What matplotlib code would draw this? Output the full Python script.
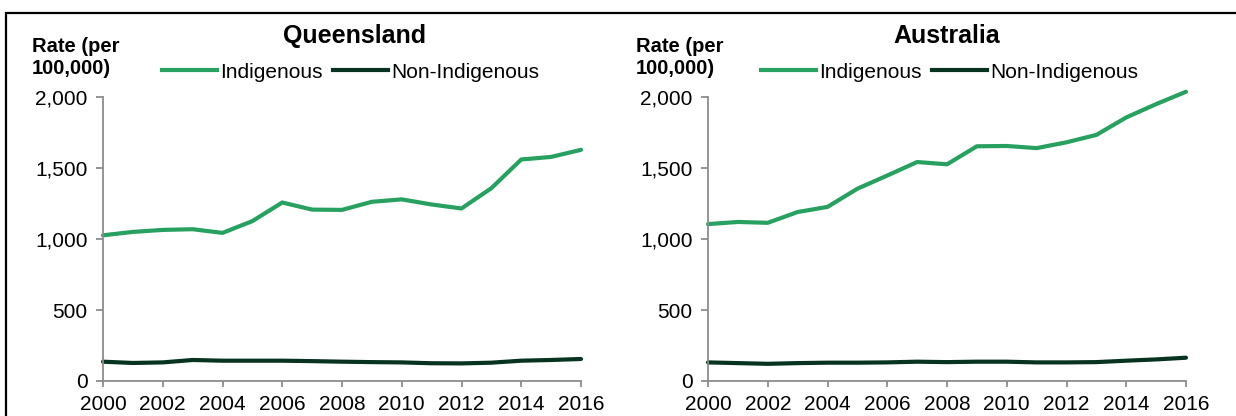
import matplotlib
matplotlib.use("Agg")
import matplotlib.pyplot as plt
from matplotlib.lines import Line2D
from matplotlib.patches import Rectangle

plt.rcParams['font.family'] = ['Liberation Sans', 'DejaVu Sans']

# Rates per 100,000, 2000-2016
years = list(range(2000, 2017))
qld_indigenous = [1026, 1050, 1064, 1069, 1043, 1126, 1257, 1207, 1205, 1262,
                  1279, 1243, 1215, 1358, 1560, 1578, 1628]
qld_non_indigenous = [136, 127, 131, 148, 143, 143, 143, 140, 136, 133,
                      131, 125, 124, 129, 143, 148, 155]
aus_indigenous = [1105, 1120, 1114, 1190, 1226, 1354, 1447, 1542, 1526, 1653,
                  1655, 1640, 1681, 1733, 1856, 1950, 2037]
aus_non_indigenous = [131, 126, 121, 126, 129, 129, 131, 136, 133, 136,
                      136, 131, 131, 133, 143, 152, 164]

panel_titles = ["Queensland", "Australia"]
series_labels = ["Indigenous", "Non-Indigenous"]
x_ticks = list(range(2000, 2017, 2))
y_ticks = [0, 500, 1000, 1500, 2000]

GREEN = "#27a060"
DARK = "#073320"
AXIS_GREY = "#8c8c8c"

fig = plt.figure(figsize=(12.36, 4.16), dpi=100)

# frame around the figure (top and left edges visible)
fig.patches.append(Rectangle((6 / 1236, -0.2), 1.2, 1.2 - 13 / 416,
                             transform=fig.transFigure, fill=False,
                             edgecolor="black", linewidth=1.6))

panels = [
    (103 / 1236, qld_indigenous, qld_non_indigenous, 355 / 1236, 162 / 1236, 32 / 1236),
    (708 / 1236, aus_indigenous, aus_non_indigenous, 947 / 1236, 761 / 1236, 636 / 1236),
]

for (left, indig, non_indig, title_x, leg_x, lab_x), title in zip(panels, panel_titles):
    ax = fig.add_axes([left, 1 - 381 / 416, 478 / 1236, 284 / 416])
    ax.plot(years, indig, color=GREEN, lw=3.0, solid_capstyle="round",
            solid_joinstyle="round", clip_on=False, label=series_labels[0])
    ax.plot(years, non_indig, color=DARK, lw=3.0, solid_capstyle="round",
            solid_joinstyle="round", clip_on=False, label=series_labels[1])

    ax.set_xlim(2000, 2016)
    ax.set_ylim(0, 2000)
    ax.set_xticks(x_ticks)
    ax.set_yticks(y_ticks)
    ax.set_yticklabels([f"{v:,}" for v in y_ticks])
    ax.tick_params(axis="both", direction="out", width=1.3,
                   color=AXIS_GREY, labelsize=15)
    ax.tick_params(axis="x", length=4, pad=6)
    ax.tick_params(axis="y", length=5, pad=6)
    for side in ("top", "right"):
        ax.spines[side].set_visible(False)
    for side in ("left", "bottom"):
        ax.spines[side].set_color(AXIS_GREY)
        ax.spines[side].set_linewidth(1.3)

    fig.text(title_x, 1 - 36 / 416, title, ha="center", va="center",
             fontsize=18, fontweight="bold")
    fig.text(lab_x, 1 - 58 / 416, "Rate (per\n100,000)", ha="left", va="center",
             fontsize=14.5, fontweight="bold", linespacing=1.2)

    handles = [Line2D([], [], color=GREEN, lw=3.0),
               Line2D([], [], color=DARK, lw=3.0)]
    fig.legend(handles, series_labels, loc="center left",
               bbox_to_anchor=(leg_x, 1 - 72 / 416), ncol=2, frameon=False,
               fontsize=15, handlelength=2.65, handletextpad=0.15,
               columnspacing=0.5, borderpad=0, borderaxespad=0)

fig.savefig("out.png", dpi=100)
